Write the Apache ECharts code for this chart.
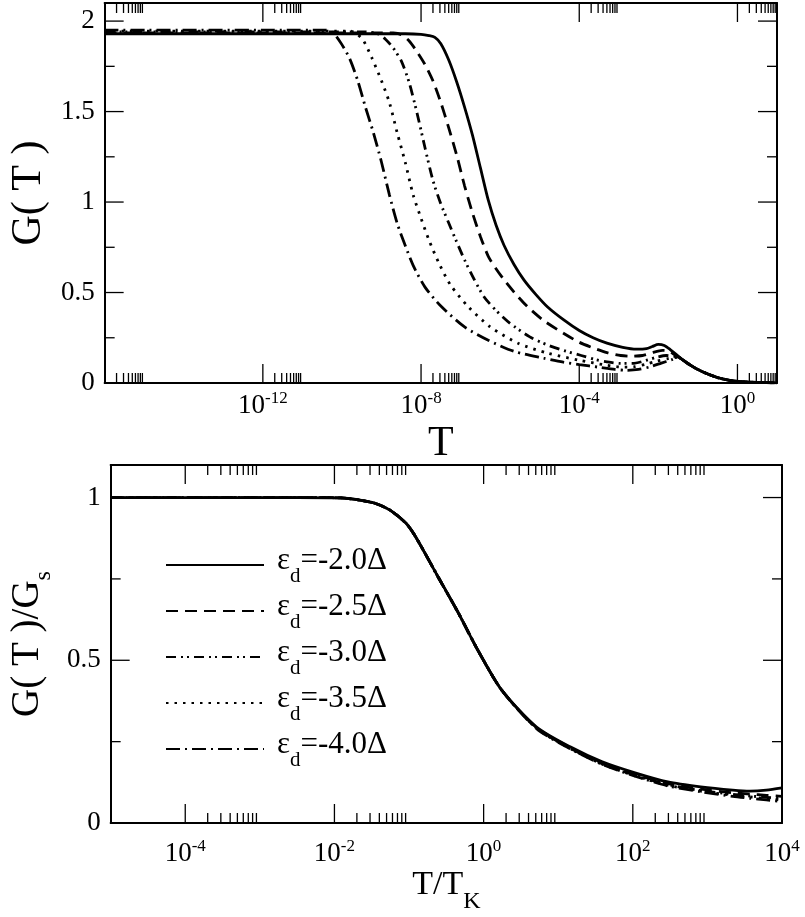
<!DOCTYPE html>
<html>
<head>
<meta charset="utf-8">
<script src="https://cdn.jsdelivr.net/npm/echarts@6/dist/echarts.min.js"></script>
<style>
  html, body { margin: 0; padding: 0; background: #fff; }
  #chart { width: 805px; height: 917px; }
</style>
</head>
<body>
<div id="chart"></div>
<script>
// legend values of eps_d (in units of Delta)
const epsValues = ['-2.0', '-2.5', '-3.0', '-3.5', '-4.0'];

// top panel: log10(T) and G(T), one pair of arrays per curve
const topT20 = [-16, -8.4, -8.0, -7.8, -7.65, -7.5, -7.3, -7.1, -6.9, -6.7, -6.5, -6.3, -6.1, -5.9, -5.65, -5.4, -5.1, -4.8, -4.4, -4.0, -3.65, -3.3, -2.9, -2.55, -2.3, -2.15, -2.0, -1.85, -1.7, -1.55, -1.4, -1.2, -1.0, -0.75, -0.5, -0.2, 0.1, 0.5, 1.0];
const topG20 = [1.93, 1.93, 1.927, 1.92, 1.91, 1.875, 1.785, 1.665, 1.525, 1.37, 1.19, 1.01, 0.87, 0.76, 0.655, 0.57, 0.49, 0.42, 0.35, 0.29, 0.25, 0.22, 0.197, 0.187, 0.19, 0.202, 0.213, 0.207, 0.185, 0.158, 0.13, 0.1, 0.074, 0.05, 0.03, 0.015, 0.007, 0.003, 0.001];
const topT25 = [-16, -8.7, -8.5, -8.3, -8.1, -7.9, -7.7, -7.5, -7.3, -7.1, -6.9, -6.7, -6.5, -6.3, -6.1, -5.9, -5.6, -5.3, -4.9, -4.4, -4.0, -3.6, -3.3, -2.95, -2.7, -2.4, -2.15, -1.9, -1.75, -1.6, -1.48, -1.4, -1.2, -1.0, -0.75, -0.5, -0.2, 0.1, 0.5, 1.0];
const topG25 = [1.935, 1.935, 1.925, 1.89, 1.83, 1.76, 1.67, 1.55, 1.41, 1.26, 1.09, 0.94, 0.81, 0.70, 0.63, 0.57, 0.49, 0.42, 0.345, 0.275, 0.225, 0.19, 0.168, 0.152, 0.148, 0.152, 0.168, 0.18, 0.178, 0.158, 0.142, 0.13, 0.1, 0.074, 0.05, 0.03, 0.015, 0.007, 0.003, 0.001];
const topT30 = [-16, -9.4, -9.1, -8.9, -8.7, -8.5, -8.3, -8.1, -7.9, -7.7, -7.5, -7.3, -7.1, -6.9, -6.65, -6.4, -6.1, -5.75, -5.25, -4.8, -4.4, -3.95, -3.6, -3.3, -2.95, -2.65, -2.35, -2.05, -1.8, -1.62, -1.48, -1.4, -1.2, -1.0, -0.75, -0.5, -0.2, 0.1, 0.5, 1.0];
const topG30 = [1.94, 1.94, 1.93, 1.90, 1.85, 1.78, 1.66, 1.49, 1.30, 1.12, 0.99, 0.884, 0.78, 0.68, 0.57, 0.474, 0.40, 0.33, 0.255, 0.21, 0.18, 0.152, 0.13, 0.117, 0.108, 0.108, 0.122, 0.142, 0.152, 0.148, 0.142, 0.13, 0.1, 0.074, 0.05, 0.03, 0.015, 0.007, 0.003, 0.001];
const topT35 = [-16, -9.8, -9.6, -9.45, -9.25, -9.0, -8.8, -8.6, -8.4, -8.2, -8.0, -7.8, -7.55, -7.25, -6.8, -6.25, -5.55, -4.8, -4.0, -3.3, -2.9, -2.6, -2.3, -2.05, -1.75, -1.6, -1.48, -1.4, -1.2, -1.0, -0.75, -0.5, -0.2, 0.1, 0.5, 1.0];
const topG35 = [1.945, 1.945, 1.925, 1.89, 1.80, 1.67, 1.55, 1.38, 1.22, 1.04, 0.91, 0.79, 0.663, 0.54, 0.42, 0.31, 0.22, 0.165, 0.126, 0.098, 0.088, 0.09, 0.105, 0.12, 0.135, 0.14, 0.142, 0.13, 0.1, 0.074, 0.05, 0.03, 0.015, 0.007, 0.003, 0.001];
const topT40 = [-16, -10.4, -10.2, -10.0, -9.8, -9.6, -9.4, -9.2, -9.0, -8.8, -8.6, -8.4, -8.2, -7.9, -7.5, -6.9, -6.3, -5.65, -4.9, -4.4, -4.0, -3.5, -3.1, -2.8, -2.5, -2.2, -1.925, -1.675, -1.48, -1.4, -1.2, -1.0, -0.75, -0.5, -0.2, 0.1, 0.5, 1.0];
const topG40 = [1.95, 1.95, 1.93, 1.87, 1.79, 1.67, 1.52, 1.38, 1.22, 1.04, 0.88, 0.76, 0.65, 0.53, 0.425, 0.31, 0.236, 0.175, 0.137, 0.115, 0.102, 0.087, 0.075, 0.07, 0.075, 0.09, 0.11, 0.128, 0.142, 0.13, 0.1, 0.074, 0.05, 0.03, 0.015, 0.007, 0.003, 0.001];

// bottom panel: log10(T/T_K) and G(T)/G_s
const bottomX = [-5, -2.5, -1.92, -1.48, -1.26, -1.04, -0.91, -0.61, -0.34, -0.08, 0.24, 0.71, 1.16, 1.59, 2.03, 2.47, 2.91, 3.34, 3.57, 3.79, 4.0];
const bottomG20 = [1, 1, 0.999, 0.984, 0.962, 0.921, 0.879, 0.756, 0.646, 0.532, 0.409, 0.295, 0.234, 0.188, 0.154, 0.126, 0.111, 0.101, 0.098, 0.101, 0.108];
const bottomG25 = [1, 1, 0.999, 0.984, 0.962, 0.921, 0.879, 0.756, 0.646, 0.532, 0.409, 0.293, 0.232, 0.185, 0.150, 0.121, 0.104, 0.093, 0.089, 0.085, 0.082];
const bottomG30 = [1, 1, 0.999, 0.984, 0.962, 0.921, 0.879, 0.756, 0.646, 0.532, 0.409, 0.292, 0.230, 0.182, 0.147, 0.118, 0.100, 0.088, 0.083, 0.079, 0.075];
const bottomG35 = [1, 1, 0.999, 0.984, 0.962, 0.921, 0.879, 0.756, 0.646, 0.532, 0.409, 0.291, 0.229, 0.181, 0.145, 0.116, 0.098, 0.085, 0.080, 0.075, 0.071];
const bottomG40 = [1, 1, 0.999, 0.984, 0.962, 0.921, 0.879, 0.756, 0.646, 0.532, 0.409, 0.290, 0.228, 0.180, 0.144, 0.114, 0.096, 0.082, 0.076, 0.071, 0.066];

// axis ticks (x as decade exponents)
const topMajorExp = [-16, -12, -8, -4, 0];
const topLabelExp = [-12, -8, -4, 0];
const bottomMajorExp = [-4, -2, 0, 2, 4];
const bottomMinorExp = [-4, -2, 0, 2];
const topYMajor = [0, 0.5, 1, 1.5, 2];
const topYMinor = [0.25, 0.75, 1.25, 1.75];
const bottomYMajor = [0, 0.5, 1];
const bottomYMinor = [0.25, 0.75];

const serif = '"Liberation Serif", "DejaVu Serif", serif';
const dashes = ['solid', [12, 7], [10, 5, 2, 4, 2, 5], [2.5, 6], [14, 5, 2, 5]];
const MAJOR_LEN = 19, MINOR_LEN = 10;

// 2..9 x 10^e, as exponents
function minorsOf(list) {
  const out = [];
  list.forEach(e => { for (let k = 2; k <= 9; k++) out.push(e + Math.log10(k)); });
  return out;
}

const frameLine = () => ({ show: true, onZero: false, lineStyle: { color: '#000', width: 2 } });

// one axis per side: the frame line (and labels/name on bottom/left)
function sideAxes(grid, min, max, sides, label) {
  return sides.map((pos, s) => ({
    type: 'value', gridIndex: grid, min: min, max: max, position: pos,
    splitLine: { show: false }, axisLine: frameLine(), axisTick: { show: false },
    axisLabel: s === 0 ? label : { show: false }
  }));
}

function expLabel(values, margin) {
  return {
    show: true, margin: margin, customValues: values.slice(),
    formatter: v => '{b|10}{s|' + Math.round(v) + '}',
    rich: {
      b: { fontFamily: serif, fontSize: 27, lineHeight: 29, color: '#000', verticalAlign: 'bottom' },
      s: { fontFamily: serif, fontSize: 17, lineHeight: 17, color: '#000', verticalAlign: 'top' }
    }
  };
}
const numLabel = values => ({ show: true, margin: 10, customValues: values.slice(), fontFamily: serif, fontSize: 27, color: '#000' });

const topX = sideAxes(0, -16, 1, ['bottom', 'top'], expLabel(topLabelExp, 7));
Object.assign(topX[0], {
  name: 'T', nameLocation: 'middle', nameGap: 40,
  nameTextStyle: { fontFamily: serif, fontSize: 42, color: '#000', lineHeight: 42 }
});
const bottomXAx = sideAxes(1, -5, 4, ['bottom', 'top'], expLabel(bottomMajorExp, 15));
Object.assign(bottomXAx[0], {
  name: 'T/T{k|K}', nameLocation: 'middle', nameGap: 42,
  nameTextStyle: {
    fontFamily: serif, fontSize: 34, color: '#000', lineHeight: 34,
    rich: { k: { fontFamily: serif, fontSize: 24, color: '#000', lineHeight: 24, padding: [22, 0, 0, 0], verticalAlign: 'top' } }
  }
});
const topY = sideAxes(0, 0, 2.1, ['left', 'right'], numLabel(topYMajor));
Object.assign(topY[0], {
  name: 'G( T )', nameLocation: 'middle', nameGap: 50,
  nameTextStyle: { fontFamily: serif, fontSize: 42, color: '#000', lineHeight: 42 }
});
const bottomY = sideAxes(1, 0, 1.1, ['left', 'right'], numLabel(bottomYMajor));
Object.assign(bottomY[0], {
  name: 'G( T )/G{s|s}', nameLocation: 'middle', nameGap: 50,
  nameTextStyle: {
    fontFamily: serif, fontSize: 39, color: '#000', lineHeight: 39,
    rich: { s: { fontFamily: serif, fontSize: 24, color: '#000', lineHeight: 24, padding: [24, 0, 0, 0], verticalAlign: 'top' } }
  }
});

// tick marks: [value, side (0 bottom, 1 top, 2 left, 3 right), length]
function tickItems(xMajor, xMinor, yMajor, yMinor) {
  const out = [];
  [0, 1].forEach(side => {
    xMajor.forEach(v => out.push([v, side, MAJOR_LEN]));
    xMinor.forEach(v => out.push([v, side, MINOR_LEN]));
  });
  [2, 3].forEach(side => {
    yMajor.forEach(v => out.push([v, side, MAJOR_LEN]));
    yMinor.forEach(v => out.push([v, side, MINOR_LEN]));
  });
  return out;
}

function tickSeries(xIdx, yIdx, xr, yr, items) {
  return {
    type: 'custom', name: 'ticks', xAxisIndex: xIdx, yAxisIndex: yIdx,
    coordinateSystem: 'cartesian2d', clip: false, silent: true, z: 3,
    encode: { x: 0, y: 0 },
    data: items,
    renderItem: (params, api) => {
      const v = api.value(0), side = api.value(1), len = api.value(2);
      let p, q;
      if (side === 0) { p = api.coord([v, yr[0]]); q = [p[0], p[1] - len]; }
      else if (side === 1) { p = api.coord([v, yr[1]]); q = [p[0], p[1] + len]; }
      else if (side === 2) { p = api.coord([xr[0], v]); q = [p[0] + len, p[1]]; }
      else { p = api.coord([xr[1], v]); q = [p[0] - len, p[1]]; }
      return {
        type: 'line',
        shape: { x1: p[0], y1: p[1], x2: q[0], y2: q[1] },
        style: { stroke: '#000', lineWidth: 1.3 }
      };
    }
  };
}

const topSets = [[topT20, topG20], [topT25, topG25], [topT30, topG30], [topT35, topG35], [topT40, topG40]];
const bottomSets = [bottomG20, bottomG25, bottomG30, bottomG35, bottomG40];
const BX = topX.length, BY = topY.length;

function lineSeries(name, i, xIdx, yIdx, data) {
  return {
    name: name, type: 'line', xAxisIndex: xIdx, yAxisIndex: yIdx,
    data: data, symbol: 'none', smooth: 0.25,
    lineStyle: { color: '#000', width: 2.8, type: dashes[i] },
    itemStyle: { color: '#000' }
  };
}

const series = [];
epsValues.forEach((name, i) => {
  series.push(lineSeries(name, i, 0, 0, topSets[i][0].map((e, k) => [e, topSets[i][1][k]])));
});
epsValues.forEach((name, i) => {
  series.push(lineSeries(name, i, BX, BY, bottomX.map((e, k) => [e, bottomSets[i][k]])));
});
series.push(tickSeries(0, 0, [-16, 1], [0, 2.1],
  tickItems(topMajorExp, minorsOf(topMajorExp), topYMajor, topYMinor)));
series.push(tickSeries(BX, BY, [-5, 4], [0, 1.1],
  tickItems(bottomMajorExp, minorsOf(bottomMinorExp), bottomYMajor, bottomYMinor)));

const chart = echarts.init(document.getElementById('chart'));
chart.setOption({
  animation: false,
  grid: [
    { left: 99, right: 28, top: 3, height: 380 },
    { left: 99, right: 23, top: 465, height: 358 }
  ],
  xAxis: topX.concat(bottomXAx),
  yAxis: topY.concat(bottomY),
  legend: {
    data: epsValues,
    orient: 'vertical',
    left: 160,
    top: 540,
    itemWidth: 98,
    itemHeight: 14,
    itemGap: 4,
    selectedMode: false,
    itemStyle: { opacity: 0 },
    formatter: name => '{e|\u03b5}{d|d}{t|=' + name + '\u0394}',
    textStyle: {
      color: '#000', fontFamily: serif, fontSize: 31,
      rich: {
        e: { fontFamily: serif, fontSize: 31, lineHeight: 40, verticalAlign: 'top', color: '#000', padding: [0, 0, 0, 8] },
        d: { fontFamily: serif, fontSize: 21, lineHeight: 21, verticalAlign: 'top', color: '#000', padding: [21, 0, 0, 0] },
        t: { fontFamily: serif, fontSize: 31, lineHeight: 40, verticalAlign: 'top', color: '#000' }
      }
    }
  },
  series: series
});
</script>
</body>
</html>
